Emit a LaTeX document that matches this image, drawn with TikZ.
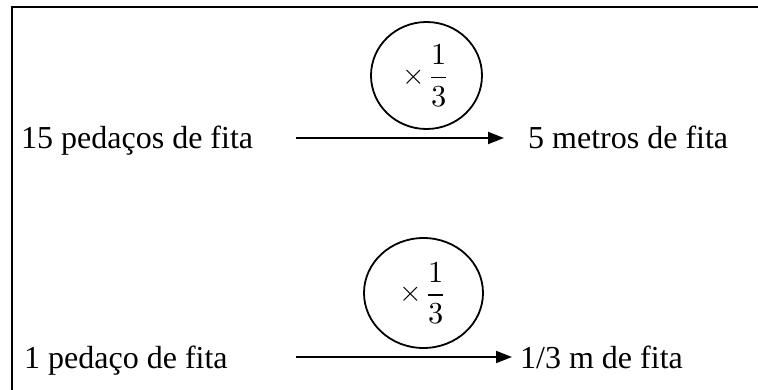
\documentclass[tikz,border=0pt]{standalone}
\usepackage{graphicx}
\usepackage{fontspec}
\setmainfont{Liberation Serif}
\usetikzlibrary{shapes.geometric,arrows.meta}
% multiplication by one third, as set inside each circle
\newcommand{\thirdfactor}{\scalebox{2.9}{$\times$}\hspace{2pt}\raisebox{-1pt}{\scalebox{3.05}{$\displaystyle\frac{1}{3}$}}}
\begin{document}
\begin{tikzpicture}[x=1pt,y=-1pt,
  label text/.style={anchor=base west,inner sep=0pt,font=\fontsize{32}{38}\selectfont},
  factor/.style={ellipse,draw,line width=1.8pt,inner sep=0pt},
  maps to/.style={line width=1.8pt,-{Triangle[length=16pt,width=12pt]}}]
  \clip (0,0) rectangle (758,390);
  \fill[white] (0,0) rectangle (758,390);
  % outer frame (runs past the right and bottom edges)
  \draw[line width=2.2pt] (12,420) -- (12,7) -- (790,7);

  % first row
  \node[label text] (from1) at (21,149) {15 pedaços de fita};
  \node[label text] (to1) at (528,149) {5 metros de fita};
  \node[factor,minimum width=111pt,minimum height=107pt] (k1) at (426.5,75.5) {\thirdfactor};
  \coordinate (s1) at (296,138);
  \coordinate (e1) at (504,138);
  \draw[maps to] (s1) -- (e1);

  % second row
  \node[label text] (from2) at (24,368) {1 pedaço de fita};
  \node[label text] (to2) at (520,368) {1/3 m de fita};
  \node[factor,minimum width=119pt,minimum height=110pt] (k2) at (423.5,293) {\thirdfactor};
  \coordinate (s2) at (296,357);
  \coordinate (e2) at (512,357);
  \draw[maps to] (s2) -- (e2);
\end{tikzpicture}
\end{document}
